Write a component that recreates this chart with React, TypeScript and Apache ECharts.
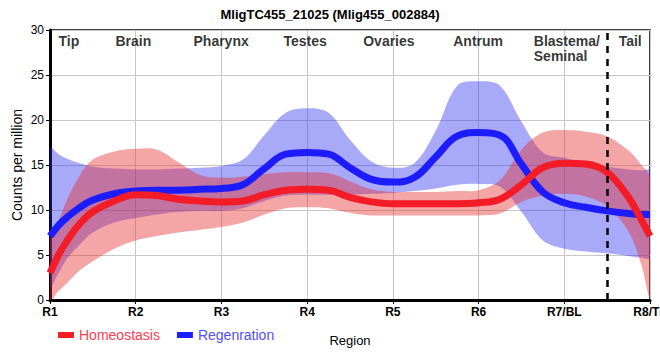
import React, { useEffect, useRef } from "react";
import * as echarts from "echarts";

const categories = ["R1", "R2", "R3", "R4", "R5", "R6", "R7/BL", "R8/TL"];
const regionNames = ["Tip", "Brain", "Pharynx", "Testes", "Ovaries", "Antrum", "Blastema/\nSeminal", "Tail"];
const regionX = [0.105, 0.77, 1.68, 2.73, 3.66, 4.71, 5.65, 6.64];
const regionLabelY = 29.6;
const dividerX = 6.5;

const xPos = [0, 0.1, 0.2, 0.35, 0.5, 0.75, 1, 1.25, 1.5, 1.75, 2, 2.25, 2.5, 2.75, 3, 3.25, 3.5, 3.75, 4, 4.25, 4.5, 4.75, 5, 5.25, 5.5, 5.75, 6, 6.25, 6.5, 6.75, 6.9, 7];

const homeoMean = [3.0, 5.0, 6.6, 8.5, 9.8, 11.0, 11.7, 11.6, 11.2, 11.0, 10.9, 11.0, 11.7, 12.2, 12.3, 12.2, 11.4, 10.9, 10.7, 10.7, 10.7, 10.7, 10.8, 11.2, 12.8, 14.7, 15.2, 15.1, 14.2, 11.4, 8.9, 7.1];
const homeoUpper = [6.8, 8.8, 11.2, 13.9, 15.6, 16.5, 16.8, 16.7, 15.3, 13.9, 13.6, 13.7, 14.0, 14.2, 14.2, 14.1, 13.2, 12.3, 12.0, 12.0, 12.0, 12.1, 12.2, 13.3, 16.7, 18.6, 18.9, 18.7, 18.2, 16.6, 15.0, 13.6];
const homeoLower = [0, 1.0, 1.9, 3.3, 4.3, 5.7, 6.6, 7.1, 7.5, 7.8, 8.1, 8.6, 9.5, 10.2, 10.3, 10.2, 9.7, 9.4, 9.4, 9.4, 9.4, 9.4, 9.4, 9.6, 10.9, 11.6, 11.8, 11.5, 10.4, 7.6, 3.9, 0.3];

const regenMean = [7.1, 8.3, 9.2, 10.3, 11.1, 11.8, 12.1, 12.2, 12.2, 12.3, 12.4, 12.8, 14.6, 16.2, 16.4, 16.2, 14.7, 13.4, 13.1, 13.6, 15.9, 18.2, 18.6, 18.3, 15.1, 12.0, 10.8, 10.3, 9.9, 9.6, 9.5, 9.5];
const regenUpper = [16.9, 16.2, 15.7, 15.2, 14.8, 14.6, 14.5, 14.5, 14.6, 14.7, 14.9, 15.6, 18.3, 20.8, 21.3, 20.8, 17.8, 15.4, 14.7, 15.2, 18.8, 23.8, 24.3, 23.8, 19.8, 16.4, 15.8, 15.2, 14.8, 14.5, 14.4, 14.4];
const regenLower = [1.5, 3.0, 4.6, 6.2, 7.5, 8.6, 9.1, 9.5, 9.8, 9.9, 9.9, 10.2, 11.0, 11.6, 11.7, 11.7, 11.7, 11.8, 11.9, 12.1, 12.4, 12.8, 12.9, 12.6, 9.8, 6.6, 5.7, 5.4, 5.2, 4.9, 4.7, 4.7];

const FONT = "'Liberation Sans', Arial, sans-serif";
const RED = "#f41c26";
const BLUE = "#1c1cff";
const RED_BAND = "rgba(228,40,40,0.42)";
const BLUE_BAND = "rgba(40,40,240,0.40)";

const pairs = (ys: number[]) => xPos.map((x, i) => [x, ys[i]]);

function bandSeries(name: string, lower: number[], upper: number[], color: string) {
  return {
    name,
    type: "custom",
    silent: true,
    clip: true,
    data: [[0, 0]],
    renderItem: (_params: any, api: any) => {
      const up = xPos.map((x, i) => api.coord([x, upper[i]]));
      const lo = xPos.map((x, i) => api.coord([x, lower[i]])).reverse();
      return {
        type: "polygon",
        shape: { points: up.concat(lo), smooth: 0.35 },
        style: { fill: color, stroke: "none" },
      };
    },
  };
}

export default function App() {
  const ref = useRef<HTMLDivElement>(null);
  useEffect(() => {
    document.body.style.margin = "0";
    if (!ref.current) return;
    const chart = echarts.init(ref.current, undefined, { renderer: "svg" });
    chart.setOption({
      animation: false,
      textStyle: { fontFamily: FONT },
      title: {
        text: "MligTC455_21025 (Mlig455_002884)",
        left: "center",
        top: 3,
        textStyle: { fontSize: 13, fontWeight: "bold", color: "#000", fontFamily: FONT },
      },
      grid: {
        left: 50,
        right: 10,
        top: 30,
        bottom: 60,
        outerBoundsMode: "none",
        containLabel: false,
        show: true,
        borderColor: "#000",
        borderWidth: 1.5,
      },
      legend: {
        left: 53,
        top: 323,
        icon: "rect",
        itemWidth: 16,
        itemHeight: 6,
        itemGap: 17,
        textStyle: { fontSize: 14, fontFamily: FONT },
        data: [
          { name: "Homeostasis", textStyle: { color: "#ff4050" } },
          { name: "Regenration", textStyle: { color: "#5050ff" } },
        ],
      },
      xAxis: {
        type: "value",
        min: 0,
        max: 7,
        interval: 1,
        name: "Region",
        nameLocation: "middle",
        nameGap: 34,
        nameMoveOverlap: false,
        nameTextStyle: { fontSize: 13, color: "#000", fontFamily: FONT },
        axisLine: { show: true, lineStyle: { color: "#000", width: 3 } },
        axisTick: { show: true, length: 4, lineStyle: { color: "#000", width: 1 } },
        axisLabel: {
          color: "#000",
          fontSize: 12,
          fontWeight: "bold",
          margin: 6,
          fontFamily: FONT,
          formatter: (v: number) => categories[Math.round(v)] ?? "",
        },
        splitLine: { show: true, lineStyle: { color: "#c8c8c8", width: 1 } },
      },
      yAxis: {
        type: "value",
        min: 0,
        max: 30,
        interval: 5,
        name: "Counts per million",
        nameLocation: "middle",
        nameGap: 26,
        nameMoveOverlap: false,
        nameTextStyle: { fontSize: 14, color: "#000", fontFamily: FONT },
        axisLine: { show: true, lineStyle: { color: "#000", width: 3 } },
        axisTick: { show: true, length: 4, lineStyle: { color: "#000", width: 1 } },
        axisLabel: { color: "#000", fontSize: 12, margin: 6, fontFamily: FONT },
        splitLine: { show: true, lineStyle: { color: "#c8c8c8", width: 1 } },
      },
      series: [
        bandSeries("regen-band", regenLower, regenUpper, BLUE_BAND),
        {
          name: "Regenration",
          type: "line",
          data: pairs(regenMean),
          smooth: 0.4,
          symbol: "none",
          color: BLUE,
          lineStyle: { color: BLUE, width: 7 },
        },
        bandSeries("homeo-band", homeoLower, homeoUpper, RED_BAND),
        {
          name: "Homeostasis",
          type: "line",
          data: pairs(homeoMean),
          smooth: 0.4,
          symbol: "none",
          color: RED,
          lineStyle: { color: RED, width: 7 },
          markLine: {
            silent: true,
            symbol: "none",
            label: { show: false },
            lineStyle: { color: "#000", width: 2.5, type: [7, 6] },
            data: [{ xAxis: dividerX }],
          },
        },
        {
          name: "regions",
          type: "scatter",
          symbolSize: 1,
          itemStyle: { color: "transparent" },
          silent: true,
          z: 10,
          data: regionNames.map((n, i) => ({ name: n, value: [regionX[i], regionLabelY] })),
          label: {
            show: true,
            position: [0, 0],
            align: "left",
            verticalAlign: "top",
            formatter: "{b}",
            fontSize: 14,
            fontWeight: "bold",
            lineHeight: 15,
            color: "#000",
            fontFamily: FONT,
          },
        },
      ],
    });
    return () => chart.dispose();
  }, []);
  return <div ref={ref} style={{ width: 660, height: 360 }} />;
}
